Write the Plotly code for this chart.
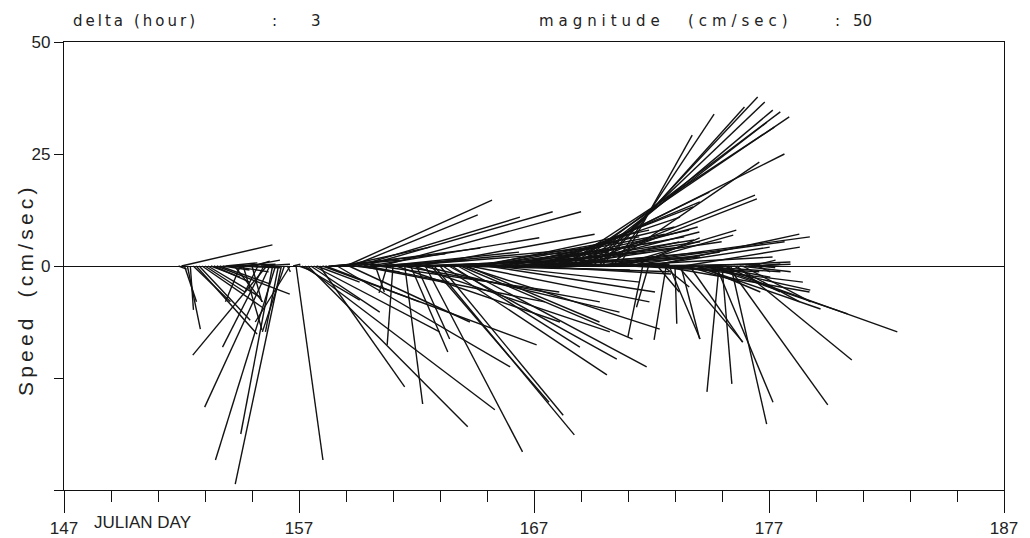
import plotly.graph_objects as go

# ---- data ----
START_DAY = 151.875          # julian day of first stick
DELTA_HOURS = 3              # sampling interval shown in header
MAGNITUDE_LABEL = 50

# east (u) and north (v) components, cm/sec
u_a = [1.8, 20.3, 2.7, 2.9, 0.7, 8.3, 13.6, 11.4, 13.4, 8.9, 11.6, 6.5, 8.0, 16.3, 11.2, 6.0, 7.1, 10.5, 8.3, 6.3,
       9.6, -3.3, 4.2, 2.0, 6.9, 2.2, 3.3, -2.9, 6.5, -9.2, -16.5, -14.5, -7.1, -13.4, -2.9, -10.3, -4.9, 0.7, -7.8,
       1.6, 6.0, 2.5]
v_a = [-0.7, 4.7, -8.0, -14.1, -9.8, -8.0, -15.2, -12.1, -9.2, -5.8, -6.9, -2.5, -3.6, -6.3, -4.0, -0.9, 0.7, 0.4,
       -1.3, -8.0, -0.4, -8.0, -14.3, 0.4, 1.3, -8.0, 1.1, -5.8, 0.4, -18.1, -19.9, -31.5, -37.5, -43.3, -14.7,
       -48.7, -14.7, -1.3, -12.5, 0.4, -43.3, -0.9]
u_b = [12.9, 42.4, 35.7, 15.4, 28.1, 9.6, 19.0, 47.8, 21.0, 11.4, 15.2, 24.8, 38.6, 31.3, 19.4, 32.6, 27.0, 28.1,
       10.0, 36.2, 41.1, 42.2, 18.5, 37.9, 21.7, 2.0, 40.4, 44.6, 30.1, -1.8, 46.9, -1.3, 36.6, 39.3, 44.2, 4.0,
       40.6, 8.3, 43.8, 7.4, 39.1, 44.0, 21.7, 33.7]
v_b = [-7.6, -32.1, -35.9, -10.3, -14.7, -3.6, -27.0, -17.6, -8.0, 0.4, 1.3, 2.7, -22.5, 4.0, 4.2, 14.7, -12.5,
       11.4, -1.3, 10.9, -8.0, 12.1, -3.6, 6.3, 1.3, -5.8, -5.8, 12.1, 3.1, -6.0, 4.2, -17.6, -12.5, 3.1, -8.0,
       -30.8, 1.3, -19.2, -14.7, -16.3, 7.1, -10.3, -41.5, 1.3]
u_c = [26.3, 31.3, 36.2, 27.5, 36.6, 38.8, 37.5, 28.6, 39.1, 42.2, 38.4, 43.8, 29.7, 40.2, 35.0, 36.6, 29.2, 37.5,
       30.1, 37.5, 35.7, 32.8, 36.6, 33.7, 36.4, 36.8, 29.5, 36.6, 37.1, 34.2, 36.8, 30.6, 36.6, 31.9, 36.4, 32.6,
       36.4, 34.2, 32.8, 34.4, 34.8, 32.6, 37.3, 33.9]
v_c = [-30.4, -37.7, 2.0, -33.3, -24.3, 0.4, -20.8, -18.1, -0.9, -22.5, -16.3, -14.1, -12.5, -8.0, 4.2, 6.5, 3.1,
       8.0, 5.4, -5.8, 3.1, -3.6, 5.4, 0.4, 7.1, -1.3, 1.3, 8.7, 4.2, 0.4, 6.5, 2.0, 8.0, -1.8, 5.8, 10.9, 5.4,
       13.2, 2.0, 14.3, 3.1, 8.7, 5.4, 16.5]
u_d = [50.0, 47.1, 29.7, 49.1, 23.9, 45.8, 39.5, 41.5, 38.6, 41.5, 24.6, 38.4, 47.8, 35.5, 31.9, 40.2, 33.9, 36.2,
       22.5, 26.8, 16.3, 24.8, 7.8, 20.5, 24.3, 14.7, 27.5, 17.9, -3.3, 27.7, -2.7, 33.0, 23.4, 4.9, 33.3, 5.8,
       -2.7, 6.9, 29.2, 0.4]
v_d = [25.0, 31.0, 7.6, 33.3, 5.4, 34.4, 15.8, 32.1, 15.0, 34.8, 2.0, 36.6, 6.5, 37.7, 35.5, 5.4, 23.2, 2.0, 33.9,
       8.0, 29.2, 6.9, 0.4, 3.1, -1.3, 6.3, 0.4, -0.2, -15.8, 4.2, -9.2, 7.1, -1.3, -5.8, -5.8, -4.7, -16.5,
       -16.3, -3.6, -12.9]
u_e = [14.5, 4.2, 25.9, 11.8, 11.8, 19.6, 27.9, 13.8, 24.3, 19.2, 31.3, 13.4, 41.1, 12.7, -2.7, 2.2, 12.3, 22.3,
       8.0, 14.7, 25.7, 11.4, 15.2, 5.6, 9.4, 5.4, 5.8, 2.9, 4.5, 2.7]
v_e = [-17.0, -16.3, 4.2, -3.6, -17.0, -1.3, -9.6, -5.8, -5.4, 0.9, -10.7, -2.5, -14.7, -30.4, -28.1, -26.3, -5.8,
       -31.0, -35.3, -8.0, -21.0, -1.3, -8.0, -0.2, 0.4, 1.3, 0.4, -1.3, 0.4, -0.4]

x_ticks = [147, 157, 167, 177, 187]
x_minor = [149, 151, 153, 155, 159, 161, 163, 165, 169, 171, 173, 175, 179, 181, 183, 185]
y_ticks = [50, 25, 0, -25, -50]
y_ticktext = ["50", "25", "0", "", ""]

# ---- layout geometry ----
W, H = 1030, 538
ML, MR, MT, MB = 64, 26, 42, 48
X_RANGE = [147, 187]
Y_RANGE = [-50, 50]
plot_w = W - ML - MR
plot_h = H - MT - MB
px_per_day = plot_w / (X_RANGE[1] - X_RANGE[0])
px_per_unit = plot_h / (Y_RANGE[1] - Y_RANGE[0])
K = px_per_unit / px_per_day  # days per cm/sec so sticks keep true angles

u = u_a + u_b + u_c + u_d + u_e
v = v_a + v_b + v_c + v_d + v_e
t = [START_DAY + i * DELTA_HOURS / 24.0 for i in range(len(u))]

xs, ys = [], []
for ti, ui, vi in zip(t, u, v):
    xs += [ti, ti + ui * K, None]
    ys += [0, vi, None]

fig = go.Figure()
fig.add_trace(go.Scatter(x=xs, y=ys, mode="lines",
                         line=dict(color="#121212", width=1.4),
                         hoverinfo="skip", showlegend=False))

tick_font = dict(family="Liberation Sans, Arial, sans-serif", size=17, color="#222")
fig.update_layout(
    width=W, height=H,
    margin=dict(l=ML, r=MR, t=MT, b=MB),
    paper_bgcolor="white", plot_bgcolor="white",
    showlegend=False,
    xaxis=dict(range=X_RANGE, tickvals=x_ticks, ticktext=[str(v) for v in x_ticks],
               ticks="outside", ticklen=22, tickwidth=1.4, tickcolor="#111",
               showline=True, linecolor="#111", linewidth=1.4, mirror=True,
               showgrid=False, zeroline=False, tickfont=tick_font, automargin=False,
               minor=dict(tickvals=x_minor, ticks="outside", ticklen=11, tickwidth=1.4,
                          tickcolor="#111", showgrid=False)),
    yaxis=dict(range=Y_RANGE, tickvals=y_ticks, ticktext=y_ticktext,
               ticks="outside", ticklen=9, tickwidth=1.4, tickcolor="#111",
               showline=True, linecolor="#111", linewidth=1.4, mirror=True,
               showgrid=False, zeroline=True, zerolinecolor="#111", zerolinewidth=1.3,
               tickfont=tick_font, automargin=False),
)

hdr_font = dict(family="DejaVu Sans, sans-serif", size=15, color="#222")


def spaced(s, sp):
    return sp.join(list(s))


def hdr(text, xpx):
    fig.add_annotation(text=text, xref="paper", yref="paper",
                       x=(xpx - ML) / plot_w, y=1.0 + (MT - 21) / plot_h,
                       xanchor="left", yanchor="middle", showarrow=False, font=hdr_font)


THIN = "\u2009"
WIDE = "\u2004"
hdr(spaced("delta", THIN), 71)
hdr(spaced("(hour)", THIN), 132)
hdr(":", 270)
hdr(str(DELTA_HOURS), 309)
hdr(spaced("magnitude", WIDE), 537)
hdr(spaced("(cm/sec)", WIDE), 686)
hdr(":", 833)
hdr(str(MAGNITUDE_LABEL), 851)

fig.add_annotation(text="JULIAN DAY", xref="paper", yref="paper",
                   x=(92 - ML) / plot_w, y=-(522 - (H - MB)) / plot_h,
                   xanchor="left", yanchor="middle", showarrow=False, font=tick_font)

fig.add_annotation(text=spaced("Speed", THIN) + "\u2003" + spaced("(cm/sec)", THIN),
                   xref="paper", yref="paper",
                   x=(25 - ML) / plot_w, y=(H - MB - 292) / plot_h,
                   xanchor="center", yanchor="middle", textangle=-90, showarrow=False,
                   font=dict(family="Liberation Sans, Arial, sans-serif", size=21, color="#222"))

fig.write_html("out.html")
